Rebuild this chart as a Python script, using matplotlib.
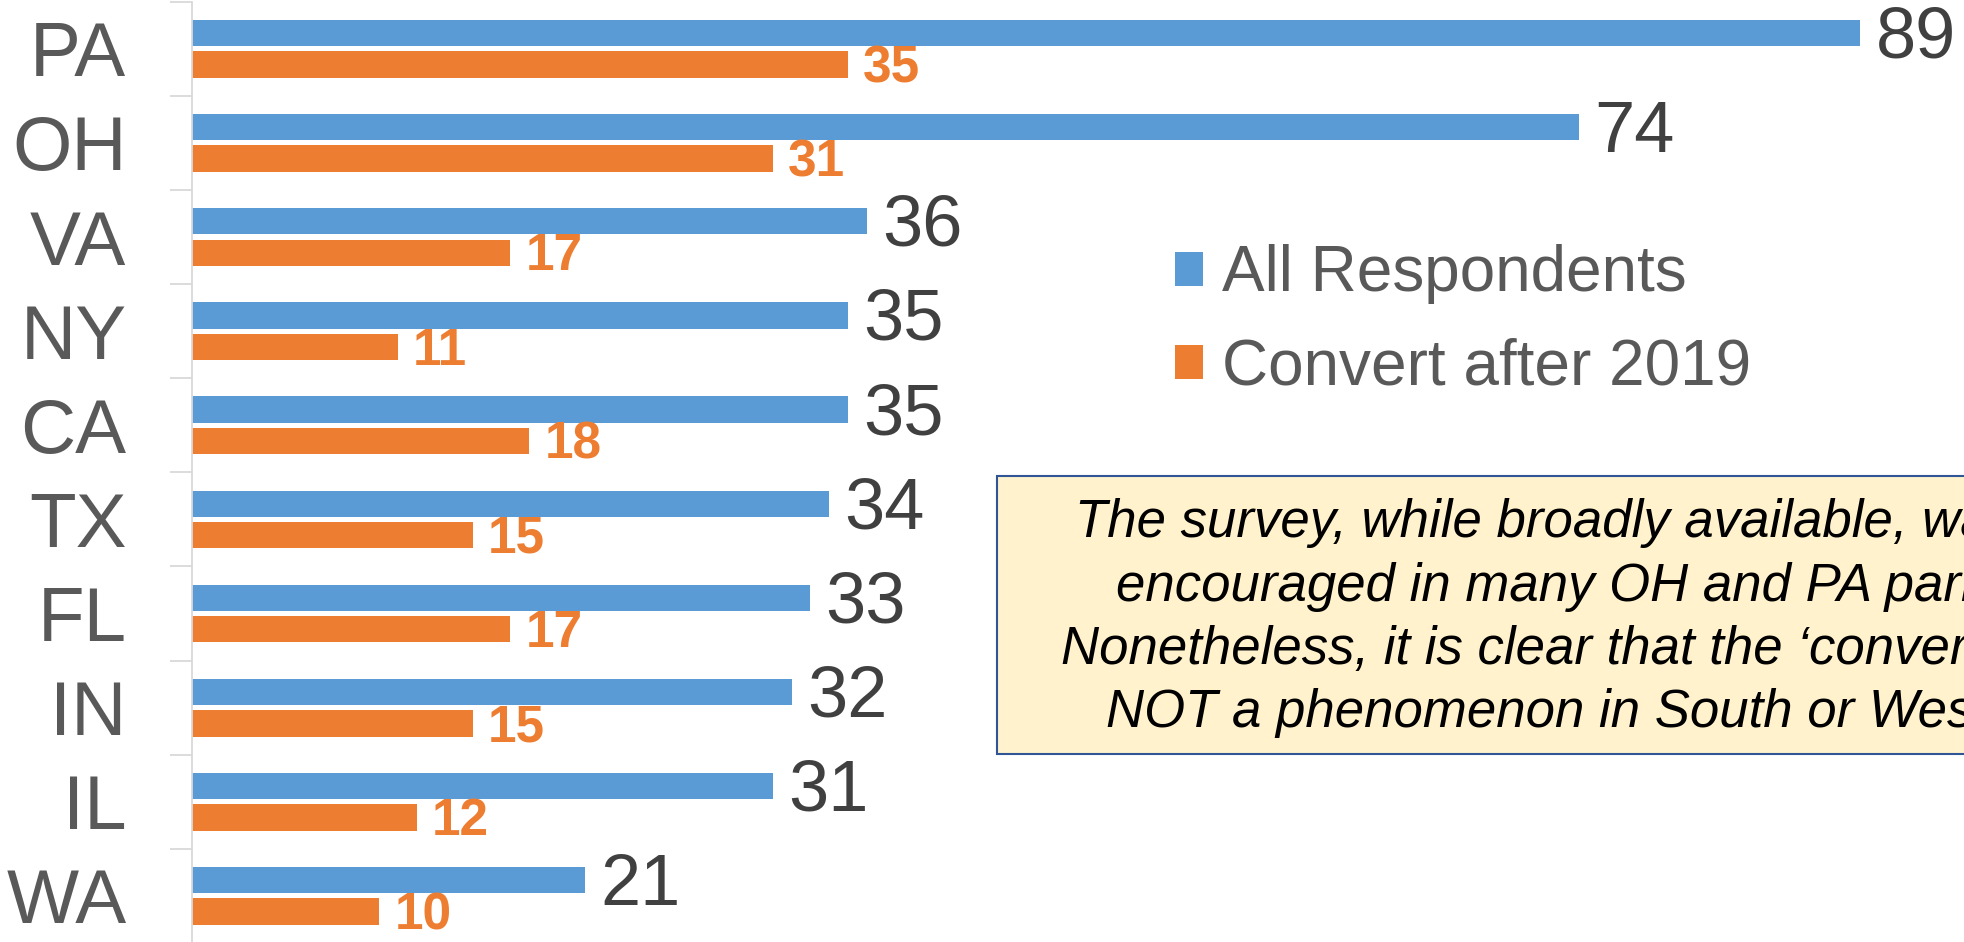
import matplotlib
matplotlib.use("Agg")
import matplotlib.pyplot as plt
from matplotlib.patches import Rectangle, Patch

states = ['PA', 'OH', 'VA', 'NY', 'CA', 'TX', 'FL', 'IN', 'IL', 'WA']
all_resp = [89, 74, 36, 35, 35, 34, 33, 32, 31, 21]
convert = [35, 31, 17, 11, 18, 15, 17, 15, 12, 10]
series_names = ['All Respondents', 'Convert after 2019']
note_lines = [
    "The survey, while broadly available, was",
    "encouraged in many OH and PA parishes.",
    "Nonetheless, it is clear that the \u2018convert\u2019 trend is",
    "NOT a phenomenon in South or West.",
]

BLUE = '#5B9BD5'
ORANGE = '#ED7D31'
GRAY = '#595959'
DARK = '#404040'

plt.rcParams['font.family'] = ['Liberation Sans', 'DejaVu Sans']

W, H = 1965, 942
fig = plt.figure(figsize=(W / 100, H / 100), dpi=100)
x0 = 191.7
ytop, ybot = 1.7, 943.0
ax = fig.add_axes([x0 / W, 1 - ybot / H, 1 - x0 / W, (ybot - ytop) / H])

n = len(states)
pos = list(range(n))
bh = 0.28
off = 0.167
ax.barh([p - off for p in pos], all_resp, height=bh, color=BLUE, edgecolor='none')
ax.barh([p + off for p in pos], convert, height=bh, color=ORANGE, edgecolor='none')

ax.set_xlim(0, (W - x0) / 18.75)
ax.set_ylim(n - 0.5, -0.5)

for p, v in zip(pos, all_resp):
    ax.annotate(str(v), (v, p - off), xytext=(11, -4.3), textcoords='offset points',
                ha='left', va='center', fontsize=52, color=DARK)
for p, v in zip(pos, convert):
    ax.annotate(str(v), (v, p + off), xytext=(11, -3.0), textcoords='offset points',
                ha='left', va='center', fontsize=37, color=ORANGE, fontweight='bold')

# category axis
ax.set_xticks([])
ax.set_yticks([p - 0.5 for p in range(n + 1)])
ax.set_yticklabels([])
ax.set_yticks(pos, minor=True)
ax.set_yticklabels(states, minor=True, fontsize=55, color=GRAY)
ax.tick_params(axis='y', which='major', length=16, width=1.3, color='#D9D9D9')
ax.tick_params(axis='y', which='minor', length=0, pad=47)
for s in ['top', 'right', 'bottom']:
    ax.spines[s].set_visible(False)
ax.spines['left'].set_color('#D9D9D9')
ax.spines['left'].set_linewidth(1.3)

# legend
handles = [Patch(facecolor=BLUE, edgecolor='none'), Patch(facecolor=ORANGE, edgecolor='none')]
leg = fig.legend(handles, series_names, loc='center left',
                 bbox_to_anchor=(1175 / W, 1 - 321 / H), frameon=False,
                 fontsize=46, handlelength=0.44, handleheight=0.44,
                 handletextpad=0.3, labelspacing=0.52, borderpad=0, borderaxespad=0)
for t in leg.get_texts():
    t.set_color(GRAY)

# note box
bx0, by0, by1 = 996.7, 475.7, 754.0
fig.patches.append(Rectangle((bx0 / W, 1 - by1 / H), (W + 20 - bx0) / W, (by1 - by0) / H,
                             transform=fig.transFigure, facecolor='#FFF2CC',
                             edgecolor='#2F5597', linewidth=1.5, zorder=3))
line_x = [1075, 1116, 1061, 1106]
line_y = [537, 601, 664, 727]
for s, lx, ly in zip(note_lines, line_x, line_y):
    fig.text(lx / W, 1 - ly / H, s, ha='left', va='baseline', fontsize=38,
             style='italic', color='black', zorder=4)

fig.savefig('out.png', dpi=100)
